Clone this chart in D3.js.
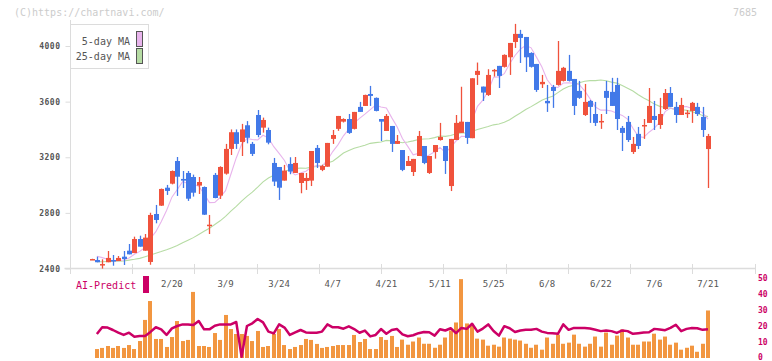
<!DOCTYPE html>
<html><head><meta charset="utf-8">
<script src="https://cdn.jsdelivr.net/npm/d3@7/dist/d3.min.js"></script>
<style>body{margin:0;background:#fff;}svg{display:block;}</style>
</head><body>
<svg id="chart" width="772" height="361"></svg>
<script>
// ---- data ----
const openP  = [2465,2461,2430,2445,2461,2454,2485,2528,2511,2612,2528,2447,2792,2852,2981,3010,3173,3044,3087,3058,2996,2986,2710,3073,2924,3082,3260,3380,3310,3430,3296,3504,3413,3396,3159,3130,3032,3152,3087,3015,3029,3032,3267,3109,3132,3332,3404,3456,3475,3404,3562,3569,3655,3627,3475,3389,3425,3296,3252,3137,3094,3209,3281,3087,3238,3324,3281,2993,3324,3375,3454,3337,3792,3708,3648,3825,3857,3850,3919,4029,4087,4065,3950,3871,3725,3605,3705,3720,3749,3821,3763,3677,3504,3605,3511,3458,3677,3670,3720,3411,3454,3238,3368,3430,3447,3497,3432,3547,3662,3562,3504,3519,3533,3562,3490,3259];
const highP  = [2470,2485,2466,2526,2497,2490,2526,2576,2629,2636,2648,2801,2857,2975,3001,3105,3202,3101,3101,3075,3058,2990,2785,3087,3135,3296,3400,3400,3440,3460,3310,3540,3485,3413,3195,3130,3145,3200,3202,3087,3087,3245,3288,3145,3303,3396,3497,3480,3511,3526,3598,3650,3713,3630,3475,3511,3425,3360,3252,3209,3188,3389,3281,3209,3288,3447,3281,3332,3504,3707,3454,3768,3881,3708,3833,3835,3857,3940,4022,4159,4116,4065,3955,3871,3792,3720,3720,4036,3850,3936,3763,3749,3727,3612,3598,3511,3749,3771,3771,3425,3497,3346,3418,3475,3698,3605,3627,3691,3705,3598,3627,3540,3598,3591,3562,3368];
const lowP   = [2462,2445,2399,2445,2420,2454,2425,2502,2511,2557,2528,2427,2725,2850,2929,3005,2922,2979,2886,2917,2936,2785,2648,2905,2900,3075,3216,3260,3209,3300,3209,3344,3377,3293,2993,2893,3032,3078,3087,2941,2965,2993,3123,3100,3132,3296,3390,3450,3368,3400,3526,3569,3569,3530,3317,3389,3238,3296,3100,3137,3065,3209,3150,3080,3190,3320,3080,2957,3324,3375,3296,3337,3720,3605,3641,3780,3698,3845,3792,3986,3878,3813,3845,3670,3698,3526,3555,3715,3745,3745,3504,3620,3497,3447,3425,3404,3511,3569,3396,3245,3310,3224,3259,3332,3447,3396,3404,3540,3562,3447,3504,3483,3447,3497,3346,2979];
const closeP = [2468,2445,2432,2476,2452,2476,2468,2502,2612,2557,2622,2785,2749,2972,2958,3101,3060,3032,2902,2945,3022,2787,2715,2907,3130,3260,3380,3296,3400,3340,3224,3360,3468,3305,3025,2981,3104,3097,3159,3087,3051,3245,3159,3137,3303,3360,3497,3475,3375,3526,3526,3648,3641,3533,3456,3497,3296,3317,3109,3173,3188,3353,3159,3209,3288,3346,3173,3332,3447,3456,3339,3768,3821,3665,3792,3828,3785,3936,4022,4087,4058,3919,3850,3684,3742,3588,3677,3821,3843,3749,3569,3627,3598,3562,3447,3461,3627,3569,3475,3375,3324,3296,3281,3432,3569,3468,3511,3662,3562,3504,3576,3521,3591,3511,3396,3353];
const ma5    = [null,2488,2478,2466,2455,2456,2461,2475,2502,2523,2552,2616,2665,2737,2817,2913,2968,3025,3011,3008,2992,2938,2874,2875,2912,2960,3078,3195,3293,3335,3328,3324,3358,3339,3276,3228,3177,3102,3073,3086,3100,3128,3140,3136,3179,3241,3291,3354,3402,3447,3480,3510,3543,3575,3561,3555,3485,3420,3335,3278,3217,3228,3196,3216,3239,3271,3235,3270,3317,3351,3349,3468,3566,3610,3677,3775,3778,3801,3873,3932,3978,4004,3987,3920,3851,3757,3708,3702,3734,3736,3732,3722,3677,3621,3561,3539,3539,3533,3516,3501,3474,3408,3350,3342,3380,3409,3452,3528,3554,3541,3563,3565,3551,3541,3519,3474];
const ma25   = [null,2449,2449,2450,2451,2452,2454,2460,2466,2473,2485,2497,2510,2522,2535,2550,2565,2585,2603,2622,2645,2668,2690,2716,2743,2775,2812,2847,2884,2919,2949,2985,3023,3051,3070,3084,3097,3111,3118,3123,3121,3129,3134,3143,3158,3171,3200,3230,3249,3265,3275,3286,3300,3305,3310,3321,3318,3312,3304,3310,3318,3328,3331,3333,3341,3353,3350,3357,3369,3375,3374,3385,3399,3411,3421,3433,3439,3451,3470,3495,3518,3543,3564,3587,3610,3626,3639,3665,3691,3709,3718,3736,3747,3751,3751,3756,3750,3740,3733,3716,3696,3676,3650,3626,3606,3582,3566,3558,3553,3544,3543,3537,3528,3515,3501,3492];
const volume = [null,5.6,6.3,7.5,6.3,7.5,6.3,8.1,5.6,10.6,23.8,35.6,11.9,11.9,6.9,13.1,23.1,10.6,11.3,41.3,7.5,7.5,6.9,15.6,11.3,26.9,18.1,15,15,13.8,10.6,16.9,6.9,7.5,15,18.1,8.1,5.6,6.9,8.1,11.9,11.3,8.8,6.3,6.9,7.5,8.1,8.1,8.1,14.4,10,11.9,5.6,5.6,13.1,11.3,13.8,6.9,11.5,8.3,10.3,12.8,8.9,8.9,6.4,8.3,12.8,17.2,22.2,49.3,21.6,20.3,12.1,11.5,7.7,8.3,7.1,12.8,12.1,11.5,10.9,8.9,6.4,8.3,5.2,12.8,8.9,14.6,8.9,9.6,14.6,8.9,7.1,8.9,13.4,7.1,15.9,8.3,14,17.8,12.8,8.3,8.3,10.3,10.3,15.2,11.5,13.4,8.3,9.6,5.2,6.4,7.7,3.9,8.9,29.7];
const aiPredict = [null,15,19.2,19,17.5,15.8,14.4,15.8,13.3,13.8,13.8,16.3,19.2,17.9,14.4,18.5,20,21,21,20.6,23.1,17.9,17.9,20.2,21,21,21,22.5,0.8,20,21.7,24.4,22.3,16.5,15.4,21,19,14.4,16,17.5,16,15.8,15.8,16.5,21,19.2,19.2,18.3,19.8,18.1,15.8,17.1,13.5,14.4,18.1,15.2,17.5,18.1,14.8,13.6,14.2,15.5,16.3,16.1,14,18,17.2,18.6,15.5,18.8,18.2,21.4,16.5,18.4,21,16.9,14,19.9,18.6,16.3,17.2,17.6,17.6,18.2,16.5,15.7,15.5,15.1,21,17.6,18.8,18.8,18.8,18.4,17.6,16.8,17.2,16.8,15.7,17.2,16.8,15.1,15.5,15.9,16.1,18.2,17.8,17.4,18.8,20.8,16.8,18.2,18.8,18.6,17.6,18];
const xLabels   = ["2/20","3/9","3/24","4/7","4/21","5/11","5/25","6/8","6/22","7/6","7/21"];
const xLabelIdx = [15,25,35,45,55,65,75,85,95,105,115];
const yTicks    = [2400,2800,3200,3600,4000];
const volTicks  = [0,10,20,30,40,50];
const gridSteps = d3.range(12);
const legendItems = [{name:"5-day MA", key:"ma5"},{name:"25-day MA", key:"ma25"}];

// ---- styles ----
const RED="#f0523c", BLUE="#4279e8", PINK="#e8b4ec", GREEN="#b6dca4", ORANGE="#f29640", CRIMSON="#cc0066", AXIS="#dcdcdc", TXT="#555", MONO="'DejaVu Sans Mono', monospace";

const svg = d3.select("#chart");
svg.append("rect").attr("width",772).attr("height",361).attr("fill","#fff");

const n = closeP.length;
const x = d3.scaleLinear().domain([0, n-1]).range([91.5, 708]);
const y = d3.scaleLinear().domain([2400, 4000]).range([268.5, 46]);
const yv = d3.scaleLinear().domain([0, 50]).range([358, 278]);
const gx = d3.scaleLinear().domain([0, 11]).range([70, 754.5]);

// header
svg.append("text").attr("x",14).attr("y",16).attr("font-family",MONO).attr("font-size",10).attr("fill","#cccccc").text("(C)https://chartnavi.com/");
svg.append("text").attr("x",757).attr("y",16).attr("text-anchor","end").attr("font-family",MONO).attr("font-size",10).attr("fill","#cccccc").text("7685");

// axes lines
svg.append("line").attr("x1",70.5).attr("x2",70.5).attr("y1",20).attr("y2",268.5).attr("stroke",AXIS);
svg.append("line").attr("x1",64.5).attr("x2",755).attr("y1",268.5).attr("y2",268.5).attr("stroke",AXIS).attr("stroke-width",1.5);

// y axis
const yAxis = d3.axisLeft(y).tickValues(yTicks).tickSize(5).tickPadding(5).tickFormat(d3.format("d"));
const ya = svg.append("g").attr("transform","translate(70.5,0)").call(yAxis);
ya.select(".domain").remove();
ya.selectAll("line").attr("stroke",AXIS);
ya.selectAll("text").attr("font-family",MONO).attr("font-size",8).attr("letter-spacing",0.5).attr("fill",TXT).attr("font-weight","bold");

// x ticks
svg.append("g").selectAll("line").data(gridSteps).join("line")
  .attr("x1",d=>Math.round(gx(d))+0.5).attr("x2",d=>Math.round(gx(d))+0.5)
  .attr("y1",264).attr("y2",274).attr("stroke",AXIS);
svg.append("g").selectAll("text").data(xLabels).join("text")
  .attr("x",(d,i)=>x(xLabelIdx[i])).attr("y",287).attr("text-anchor","middle")
  .attr("font-family",MONO).attr("font-size",9).attr("fill",TXT).text(d=>d);

// moving averages
const lineGen = arr => d3.line().defined(d=>d!=null).x((d,i)=>x(i)).y(d=>y(d))(arr);
svg.append("path").attr("d",lineGen(ma25)).attr("fill","none").attr("stroke",GREEN).attr("stroke-width",1.1);
svg.append("path").attr("d",lineGen(ma5)).attr("fill","none").attr("stroke",PINK).attr("stroke-width",1.1);

// candles
const idx = d3.range(n);
const cg = svg.append("g");
cg.selectAll("line.w").data(idx).join("line").attr("class","w")
  .attr("x1",i=>Math.round(x(i))+0.5).attr("x2",i=>Math.round(x(i))+0.5)
  .attr("y1",i=>y(highP[i])).attr("y2",i=>y(lowP[i]))
  .attr("stroke",i=>closeP[i]>=openP[i]?RED:BLUE).attr("stroke-width",1.3);
cg.selectAll("rect.b").data(idx).join("rect").attr("class","b")
  .attr("x",i=>Math.round(x(i))-2)
  .attr("width",5)
  .attr("y",i=>y(Math.max(openP[i],closeP[i])))
  .attr("height",i=>Math.max(1.5, Math.abs(y(openP[i])-y(closeP[i]))))
  .attr("fill",i=>closeP[i]>=openP[i]?RED:BLUE);

// legend
svg.append("rect").attr("x",70.5).attr("y",24.5).attr("width",78).attr("height",44).attr("fill","#fff").attr("stroke",AXIS);
const lg = svg.append("g").selectAll("g").data(legendItems).join("g");
lg.append("text").attr("x",130).attr("y",(d,i)=>45+i*15).attr("text-anchor","end")
  .attr("font-family",MONO).attr("font-size",10).attr("fill",TXT).text(d=>d.name);
lg.append("rect").attr("x",136.5).attr("y",(d,i)=>31.5+i*17).attr("width",6).attr("height",15)
  .attr("fill",d=>d.key==="ma5"?PINK:GREEN).attr("stroke","#555");

// volume panel
svg.append("g").selectAll("rect").data(idx.filter(i=>volume[i]!=null)).join("rect")
  .attr("x",i=>Math.round(x(i))-2).attr("width",4)
  .attr("y",i=>yv(volume[i])).attr("height",i=>yv(0)-yv(volume[i]))
  .attr("fill",ORANGE);
svg.append("path").attr("d",d3.line().defined(d=>d!=null).x((d,i)=>x(i)).y(d=>yv(d))(aiPredict))
  .attr("fill","none").attr("stroke",CRIMSON).attr("stroke-width",2.5).attr("stroke-linejoin","round");
svg.append("g").selectAll("text").data(volTicks).join("text")
  .attr("x",758).attr("y",d=>Math.min(yv(d)+3, 359.5)).attr("font-family",MONO).attr("font-size",8).attr("font-weight","bold")
  .attr("fill",CRIMSON).text(d=>d);
svg.append("text").attr("x",76).attr("y",289).attr("font-family",MONO).attr("font-size",10).attr("fill",CRIMSON).text("AI-Predict");
svg.append("rect").attr("x",143).attr("y",276).attr("width",6).attr("height",17).attr("fill",CRIMSON);
</script>
</body></html>
